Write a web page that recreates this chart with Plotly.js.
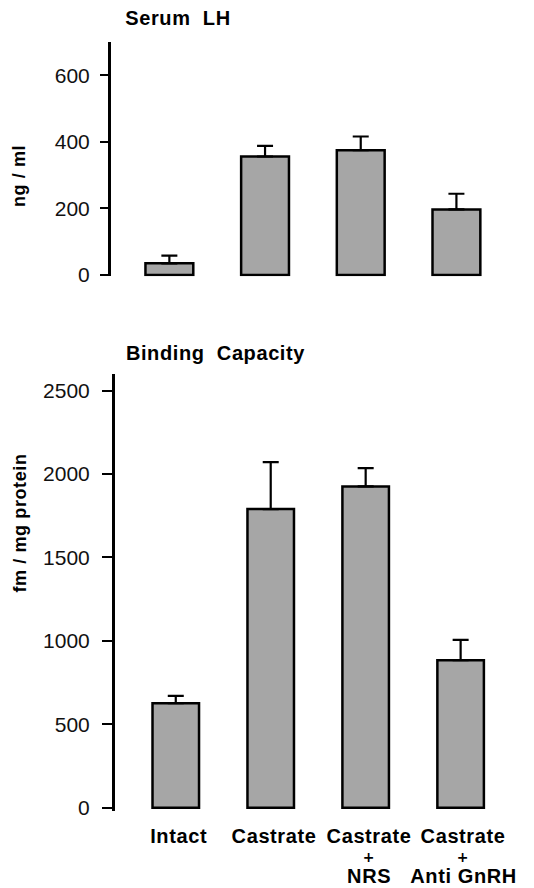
<!DOCTYPE html>
<html>
<head>
<meta charset="utf-8">
<script src="https://cdn.plot.ly/plotly-3.0.1.min.js"></script>
<style>
html,body{margin:0;padding:0;background:#fff;}
#chart{width:534px;height:888px;}
#chart text.annotation-text{letter-spacing:0.6px;}
</style>
</head>
<body>
<div id="chart"></div>
<script>
// ---- data ----
var categories = ['Intact', 'Castrate', 'Castrate + NRS', 'Castrate + Anti GnRH'];
var tickLabelLines = [['Intact'], ['Castrate'], ['Castrate', '+', 'NRS'], ['Castrate', '+', 'Anti GnRH']];
var serumLH = [35, 356, 375, 197];
var serumLHErr = [23, 32, 41, 47];
var binding = [626, 1790, 1926, 884];
var bindingErr = [44, 282, 110, 122];
var lhTicks = [0, 200, 400, 600];
var bindingTicks = [0, 500, 1000, 1500, 2000, 2500];

var W = 534, H = 888;
function px(x) { return x / W; }
function py(y) { return 1 - y / H; }

var zeros = categories.map(function () { return 0; });
var barFill = '#a6a6a6';

var traceTop = {
  type: 'bar', x: categories, y: serumLH, xaxis: 'x', yaxis: 'y',
  width: 0.5,
  marker: {color: barFill, line: {color: '#000', width: 2.5}},
  error_y: {type: 'data', symmetric: false, array: serumLHErr, arrayminus: zeros,
            color: '#000', thickness: 2.2, width: 8},
  hoverinfo: 'none'
};
var traceBottom = {
  type: 'bar', x: categories, y: binding, xaxis: 'x2', yaxis: 'y2',
  width: 0.49,
  marker: {color: barFill, line: {color: '#000', width: 2.5}},
  error_y: {type: 'data', symmetric: false, array: bindingErr, arrayminus: zeros,
            color: '#000', thickness: 2.2, width: 8},
  hoverinfo: 'none'
};

var tickFont = {family: 'Liberation Sans, Arial, sans-serif', size: 21, color: '#111'};
var boldFont = {family: 'Liberation Sans, Arial, sans-serif', size: 20, color: '#000', weight: 'bold'};
var plusFont = {family: 'DejaVu Sans, sans-serif', size: 14, color: '#000', weight: 'bold'};
var yTitleFont = {family: 'Liberation Sans, Arial, sans-serif', size: 18, color: '#000', weight: 'bold'};

var annotations = [
  {text: 'Serum  LH', xref: 'paper', yref: 'paper', x: px(126), y: py(18),
   xanchor: 'left', yanchor: 'middle', showarrow: false, font: boldFont},
  {text: 'Binding  Capacity', xref: 'paper', yref: 'paper', x: px(129), y: py(353),
   xanchor: 'left', yanchor: 'middle', showarrow: false, font: boldFont},
  {text: 'ng / ml', xref: 'paper', yref: 'paper', x: px(19), y: py(176),
   xanchor: 'center', yanchor: 'middle', textangle: -90, showarrow: false, font: yTitleFont},
  {text: 'fm / mg protein', xref: 'paper', yref: 'paper', x: px(20), y: py(523),
   xanchor: 'center', yanchor: 'middle', textangle: -90, showarrow: false, font: yTitleFont}
];
var lineY = [836, 857, 876.3];
tickLabelLines.forEach(function (lines, i) {
  lines.forEach(function (t, j) {
    annotations.push({text: t, xref: 'x2', yref: 'paper', x: i + 0.03, y: py(lineY[j]),
      xanchor: 'center', yanchor: 'middle', showarrow: false, borderpad: 0,
      font: (t === '+') ? plusFont : boldFont});
  });
});

var layout = {
  width: W, height: H,
  margin: {l: 0, r: 0, t: 0, b: 0},
  paper_bgcolor: '#fff', plot_bgcolor: '#fff',
  showlegend: false,
  xaxis: {
    domain: [px(111), px(510)], anchor: 'y', type: 'category',
    range: [-0.61, 3.56], showline: false, showgrid: false, zeroline: false,
    showticklabels: false, ticks: ''
  },
  yaxis: {
    domain: [py(276.3), py(42)], anchor: 'x',
    range: [-4, 700], showline: true, linewidth: 3, linecolor: '#000',
    ticks: 'outside', ticklen: 8, tickwidth: 2, tickcolor: '#000',
    tickvals: lhTicks, ticktext: lhTicks.map(String),
    showgrid: false, zeroline: false, tickfont: tickFont, ticklabelstandoff: 6
  },
  xaxis2: {
    domain: [px(115), px(510)], anchor: 'y2', type: 'category',
    range: [-0.64, 3.52], showline: false, showgrid: false, zeroline: false,
    showticklabels: false, ticks: ''
  },
  yaxis2: {
    domain: [py(811), py(374)], anchor: 'x2',
    range: [-20, 2600], showline: true, linewidth: 3, linecolor: '#000',
    ticks: 'outside', ticklen: 10, tickwidth: 2, tickcolor: '#000',
    tickvals: bindingTicks, ticktext: bindingTicks.map(String),
    showgrid: false, zeroline: false, tickfont: tickFont, ticklabelstandoff: 8
  },
  annotations: annotations
};

Plotly.newPlot('chart', [traceTop, traceBottom], layout, {staticPlot: true, displayModeBar: false});
</script>
</body>
</html>
